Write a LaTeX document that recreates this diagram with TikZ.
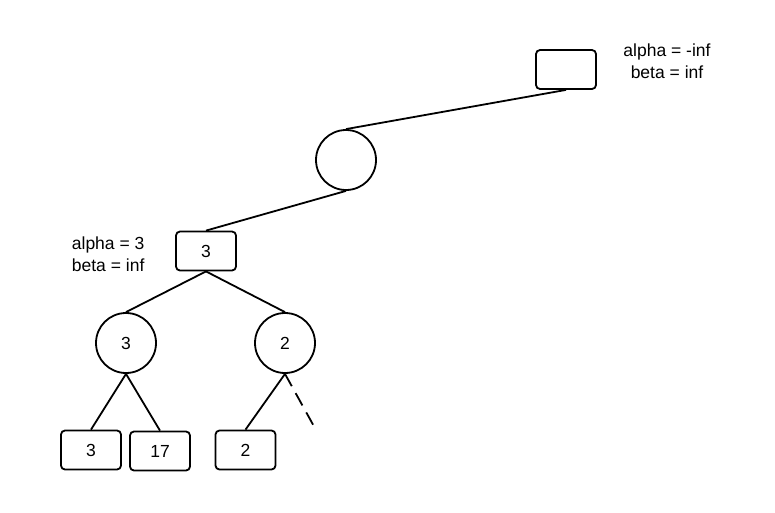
\documentclass[tikz,border=0pt]{standalone}
\usepackage{fontspec}
\setmainfont{Liberation Sans}
\begin{document}
\begin{tikzpicture}[x=1pt,y=-1pt,line width=1.8pt,
  every node/.style={font=\fontsize{17.5}{22}\selectfont},
  boxnode/.style={draw,rounded corners=4pt,minimum width=60pt,minimum height=39pt,inner sep=0pt},
  circnode/.style={draw,circle,minimum size=60pt,inner sep=0pt},
  note/.style={align=left,inner sep=0pt},
  edge/.style={draw}]
\useasboundingbox (0,0) rectangle (775,512);
\node[boxnode] (root) at (566,69.5) {};
\node[note,align=center] (rootlbl) at (667,61) {alpha = -inf\\beta = inf};
\node[circnode] (c1) at (346,160) {};
\node[boxnode] (b3) at (206,251) {3};
\node[note,anchor=west] (b3lbl) at (71,254) {alpha = 3\\beta = inf};
\node[circnode] (cl) at (126,343) {3};
\node[circnode] (cr) at (285,343) {2};
\node[boxnode] (l3) at (91,450) {3};
\node[boxnode] (l17) at (160,451) {17};
\node[boxnode] (l2) at (245.5,450) {2};
\coordinate (dend) at (316,430);
\draw (root.south) -- (c1.north);
\draw (c1.south) -- (b3.north);
\draw (b3.south) -- (cl.north);
\draw (b3.south) -- (cr.north);
\draw (cl.south) -- (l3.north);
\draw (cl.south) -- (l17.north);
\draw (cr.south) -- (l2.north);
\draw[dash pattern=on 14pt off 8pt] (cr.south) -- (dend);
\end{tikzpicture}
\end{document}
